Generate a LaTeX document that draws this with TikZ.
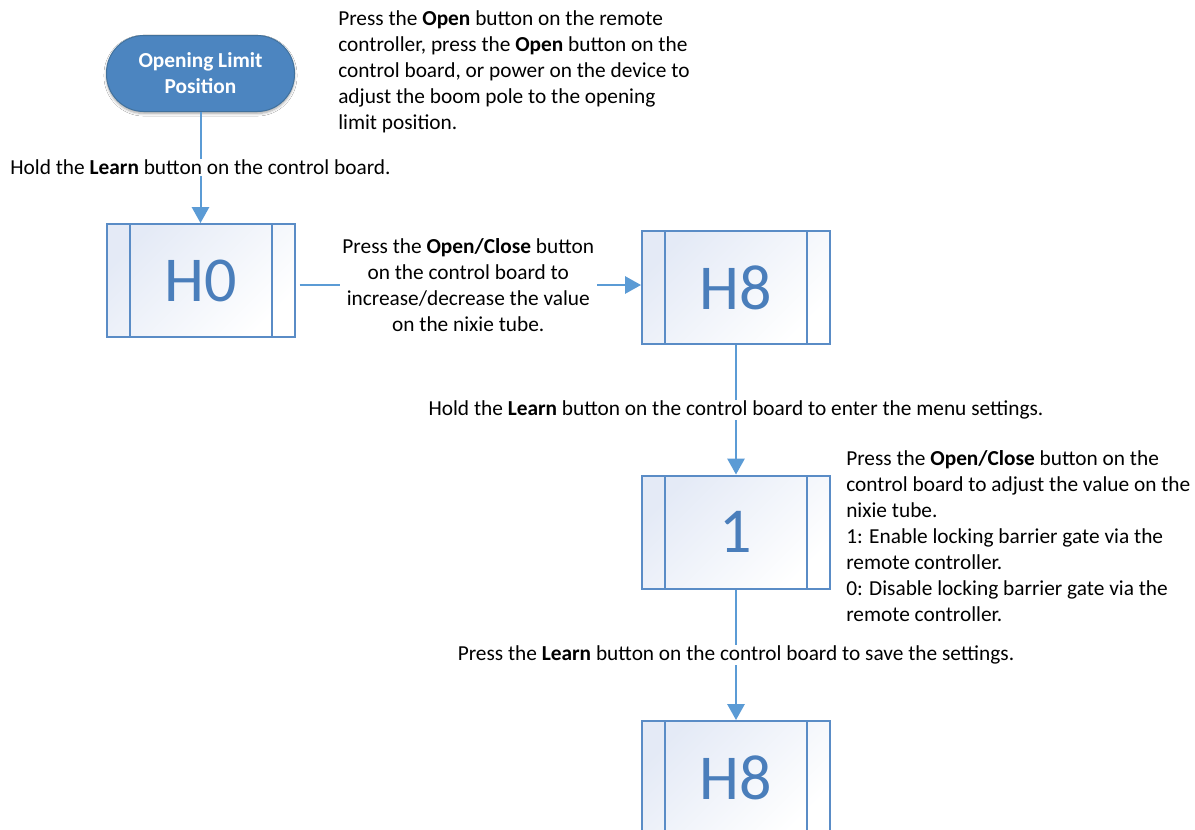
\documentclass[tikz,border=0pt]{standalone}
\usepackage{fontspec}
\setmainfont{Carlito}
\usetikzlibrary{arrows.meta,shadows.blur}
\definecolor{lineblue}{HTML}{5B9BD5}
\definecolor{boxblue}{HTML}{5A8CC6}
\definecolor{htext}{HTML}{4A7EBB}
\definecolor{termfill}{HTML}{4C85C0}
\definecolor{termdraw}{HTML}{41719C}
\definecolor{boxtop}{HTML}{E4EAF6}
\begin{document}
\begin{tikzpicture}[x=0.75pt,y=-0.75pt,
  every node/.style={font=\fontsize{16}{19.5}\selectfont},
  conn/.style={draw=lineblue,line width=1.5pt,-{Triangle[width=13pt,length=12pt]}},
  lbl/.style={fill=white,inner xsep=2pt,inner ysep=0.5pt,align=center,text=black},
  note/.style={align=left,inner sep=0pt,anchor=north west,text=black},
  term/.style={rectangle,rounded corners=28pt,minimum width=141pt,minimum height=57pt,
    fill=termfill,draw=termdraw,line width=0.75pt,text=white,
    font=\fontsize{16}{19.5}\selectfont\bfseries,align=center,
    blur shadow={shadow xshift=0pt,shadow yshift=-1.5pt,shadow blur steps=6,shadow opacity=35}},
  display/.style={rectangle,minimum width=141pt,minimum height=84.75pt,draw=boxblue,
    line width=1.5pt,top color=boxtop,bottom color=white,shading angle=45,text=htext,
    font=\fontsize{48}{48}\selectfont,
    path picture={\draw[boxblue,line width=1.5pt]
      ([xshift=17.25pt]path picture bounding box.north west) -- ([xshift=17.25pt]path picture bounding box.south west)
      ([xshift=-17.25pt]path picture bounding box.north east) -- ([xshift=-17.25pt]path picture bounding box.south east);}},
]
\useasboundingbox (0,0) rectangle (1195,829);
\fill[white] (0,0) rectangle (1195,829);
\clip (0,0) rectangle (1195,829);

\node[term] (start) at (200.5,73.5) {Opening Limit\\Position};
\node[display] (h0) at (200.5,280.5) {H0};
\node[display] (h8a) at (736,287.5) {H8};
\node[display] (one) at (736,532) {1};
\node[display] (h8b) at (736,777.5) {H8};

\node[note] (n1) at (338,10) {Press the \textbf{Open} button on the remote\\controller, press the \textbf{Open} button on the\\control board, or power on the device to\\adjust the boom pole to the opening\\limit position.};
\node[note] (n2) at (846,450) {Press the \textbf{Open/Close} button on the\\control board to adjust the value on the\\nixie tube.\\1: Enable locking barrier gate via the\\remote controller.\\0: Disable locking barrier gate via the\\remote controller.};

\draw[conn] (start) -- node[lbl]{Hold the \textbf{Learn} button on the control board.} (h0);
\draw[conn,shorten <=3pt] (h0.east |- 0,285) -- node[lbl]{Press the \textbf{Open/Close} button\\on the control board to\\increase/decrease the value\\on the nixie tube.} (h8a.west |- 0,285);
\draw[conn] (h8a) -- node[lbl]{Hold the \textbf{Learn} button on the control board to enter the menu settings.} (one);
\draw[conn] (one) -- node[lbl]{Press the \textbf{Learn} button on the control board to save the settings.} (h8b);
\end{tikzpicture}
\end{document}
